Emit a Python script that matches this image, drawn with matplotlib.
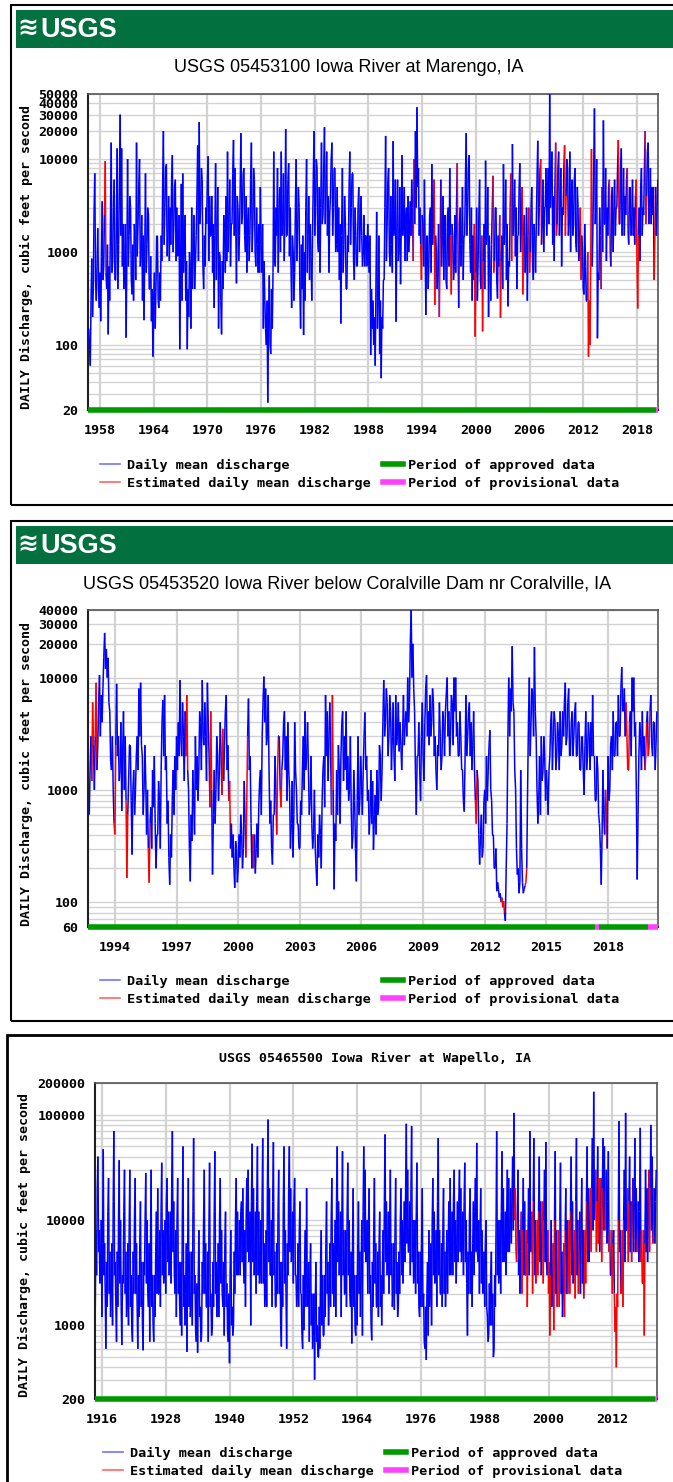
import numpy as np
import matplotlib.pyplot as plt
from matplotlib.collections import LineCollection
from matplotlib.lines import Line2D
from matplotlib.patches import Rectangle
from matplotlib.ticker import LogLocator, NullFormatter

# ---------------- data (cfs) ----------------
# Iowa River at Marengo: one row per water year, monthly highs/lows (Oct..Sep)
marengo_title = "USGS 05453100 Iowa River at Marengo, IA"
marengo_start, marengo_step = 1956.75, 1 / 12
marengo_cfs = [
    150, 90, 60, 300, 850, 200, 400, 2500, 7000, 500, 300, 700,
    1800, 400, 250, 600, 180, 900, 3500, 500, 700, 2500, 9500, 600,
    400, 1200, 130, 700, 300, 2000, 15000, 600, 800, 3000, 6000, 500,
    500, 2000, 13000, 400, 1200, 5000, 30000, 1500, 13000, 700, 2000, 400,
    600, 2000, 120, 800, 10000, 700, 1500, 4000, 3000, 500, 350, 1200,
    300, 2000, 1500, 500, 15000, 900, 2000, 5000, 10000, 700, 900, 2500,
    300, 1500, 185, 900, 7000, 600, 1200, 3000, 2500, 400, 400, 900,
    180, 400, 75, 300, 600, 150, 400, 1500, 1500, 300, 250, 600,
    300, 1500, 800, 5000, 20000, 1200, 3000, 8000, 8800, 900, 1500, 4000,
    800, 3000, 1200, 6000, 11000, 1000, 2000, 5000, 6000, 800, 3000, 900,
    900, 2500, 90, 500, 5400, 300, 7000, 600, 1000, 2500, 300, 800,
    90, 400, 200, 1000, 700, 150, 3000, 400, 1000, 2500, 400, 800,
    1500, 4000, 14000, 800, 25000, 2000, 3000, 8000, 6000, 700, 400, 1500,
    700, 3000, 2000, 6000, 10700, 800, 4000, 1500, 1500, 4000, 600, 2000,
    250, 1500, 9000, 500, 2000, 5000, 150, 1000, 900, 300, 130, 800,
    400, 2500, 1800, 600, 4000, 800, 12000, 1000, 2500, 6000, 700, 2000,
    2000, 7000, 16000, 1500, 8000, 2000, 460, 4000, 3000, 800, 1500, 5000,
    19000, 2000, 2500, 7000, 8000, 1500, 1000, 4000, 600, 2000, 3000, 800,
    1500, 6000, 15000, 1000, 2000, 8000, 6000, 1000, 700, 3000, 1200, 600,
    2000, 600, 5000, 1200, 600, 2000, 150, 800, 300, 150, 100, 300,
    24, 200, 560, 100, 80, 400, 150, 600, 12000, 800, 700, 3000,
    1500, 8000, 600, 3000, 5000, 1000, 12000, 1500, 2000, 7000, 800, 2500,
    21000, 1500, 1500, 6000, 9000, 900, 3000, 800, 250, 1500, 1000, 300,
    600, 3000, 10000, 800, 1500, 5000, 3000, 400, 150, 1200, 400, 1500,
    128, 1000, 300, 3000, 10000, 600, 1500, 4000, 500, 2000, 900, 300,
    1500, 6000, 20000, 1500, 3000, 10000, 8000, 1200, 1000, 5000, 600, 3000,
    15000, 2000, 2500, 8000, 22000, 2000, 5000, 12000, 1500, 4000, 600, 2500,
    4000, 10000, 15000, 1500, 3000, 8000, 8000, 1000, 1200, 5000, 1000, 3000,
    500, 2000, 170, 1500, 8000, 600, 1200, 4000, 2000, 400, 400, 1500,
    1000, 5000, 12000, 1200, 3000, 7000, 7000, 800, 500, 3000, 1500, 700,
    700, 3000, 5000, 1000, 2000, 4000, 1500, 700, 1000, 2500, 700, 1500,
    1500, 700, 2000, 1000, 600, 1500, 78, 400, 150, 300, 100, 200,
    60, 400, 2700, 150, 300, 1500, 80, 300, 44, 200, 150, 500,
    500, 3000, 17700, 800, 2000, 6000, 8000, 1000, 700, 4000, 1200, 600,
    15600, 1500, 2000, 6000, 178, 1500, 6000, 800, 1000, 5000, 450, 2000,
    11000, 1500, 2000, 5000, 800, 2500, 3000, 800, 4000, 1000, 1500, 3500,
    1500, 6000, 3000, 800, 10000, 2000, 20000, 3000, 36000, 5000, 8000, 1500,
    3000, 1200, 500, 2500, 2000, 700, 6000, 1000, 210, 1500, 1500, 400,
    800, 2500, 3000, 600, 8800, 1200, 2000, 6000, 270, 1500, 1000, 400,
    600, 2000, 200, 1200, 6000, 700, 1500, 4000, 500, 2500, 2500, 500,
    400, 2500, 3000, 700, 8000, 1500, 350, 2000, 1500, 500, 700, 2500,
    600, 3000, 9000, 800, 250, 2000, 3000, 700, 1200, 5000, 500, 1500,
    1500, 6000, 19000, 1500, 3000, 8000, 11000, 1200, 600, 3000, 300, 1500,
    500, 2000, 123, 600, 3000, 300, 800, 2500, 6000, 500, 400, 1500,
    140, 800, 2000, 400, 9600, 1200, 1500, 5000, 200, 1500, 600, 300,
    1200, 3000, 6600, 600, 800, 3000, 3000, 500, 316, 1500, 700, 2500,
    196, 800, 1500, 400, 8800, 1200, 2000, 6000, 500, 2000, 260, 800,
    700, 3000, 7000, 800, 14500, 1500, 2500, 6000, 900, 3000, 400, 1500,
    1500, 5000, 9000, 1000, 2000, 5000, 350, 1500, 2500, 600, 800, 3000,
    300, 1500, 3000, 600, 1000, 3000, 5000, 800, 500, 2000, 1500, 600,
    2000, 6000, 15700, 1500, 3000, 8000, 10000, 1200, 2000, 6000, 1000, 3000,
    3000, 8000, 1500, 4000, 8000, 2000, 49600, 3000, 5000, 12000, 1200, 4000,
    800, 5000, 15000, 1500, 2000, 8000, 12000, 1500, 3000, 8000, 700, 3000,
    2500, 8000, 14000, 1500, 4000, 10000, 8000, 1500, 2000, 12000, 1000, 4000,
    6000, 1500, 2000, 6000, 8000, 1200, 1000, 5000, 3000, 800, 1200, 3000,
    500, 1500, 1000, 400, 350, 2000, 700, 300, 300, 1000, 75, 300,
    100, 800, 12800, 700, 2000, 8000, 35000, 2000, 3000, 10000, 118, 600,
    500, 3000, 1500, 400, 5000, 1000, 26000, 2000, 2000, 8000, 800, 3000,
    1500, 5000, 6000, 1000, 700, 4000, 5000, 1000, 2500, 6000, 1500, 3000,
    3000, 8000, 16000, 2000, 2000, 8000, 13000, 1500, 3000, 8000, 1500, 4000,
    2500, 6000, 8000, 1500, 1200, 5000, 5000, 1500, 2000, 6000, 1500, 3000,
    1200, 4000, 6000, 800, 247, 1500, 3000, 800, 5000, 8000, 1500, 3000,
    2500, 8000, 20000, 2000, 4000, 12000, 15000, 2000, 3000, 8000, 2000, 5000,
    2500, 5000, 500, 1500, 5000, 1500, 3000, 6000,
]
marengo_est = [
    (1958.48, 1958.68), (1992.98, 1993.18), (1993.82, 1994.02), (1995.32, 1995.52),
    (1995.95, 1996.05), (1997.15, 1997.35), (1997.95, 1998.05), (1999.82, 2000.02),
    (2000.65, 2000.85), (2001.95, 2002.05), (2002.65, 2002.85), (2003.95, 2004.05),
    (2005.15, 2005.35), (2005.95, 2006.05), (2007.15, 2007.35), (2008.95, 2009.05),
    (2009.95, 2010.05), (2011.65, 2011.85), (2012.48, 2013.02), (2013.98, 2014.18),
    (2014.95, 2015.05), (2015.95, 2016.05), (2016.95, 2017.05), (2017.82, 2018.18),
    (2018.95, 2019.05), (2019.95, 2020.05),
]
marengo_approved = [(1956.66, 2020.1)]
marengo_provisional = [(2020.1, 2020.35)]
marengo_years = [1958, 1964, 1970, 1976, 1982, 1988, 1994, 2000, 2006, 2012, 2018]
marengo_yticks = [20, 100, 1000, 10000, 20000, 30000, 40000, 50000]

# Iowa River below Coralville Dam: one row per water year, twice a month (Oct..Sep)
coral_title = "USGS 05453520 Iowa River below Coralville Dam nr Coralville, IA"
coral_start, coral_step = 1992.75, 1 / 24
coral_cfs = [
    600, 1500, 3000, 1200, 6000, 2500, 1000, 3000, 9000, 1500, 2500, 6000,
    10500, 3000, 7000, 4000, 8000, 15000, 25000, 12000, 18000, 10000, 15000, 6000,
    5000, 1800, 1500, 3000, 1000, 500, 400, 2500, 8800, 2000, 3000, 1200,
    1500, 4000, 650, 2000, 5000, 1000, 3000, 800, 164, 600, 1200, 2500,
    2500, 800, 265, 1000, 1500, 600, 1000, 2000, 3000, 1500, 8000, 3000,
    9000, 2500, 2000, 600, 1000, 2500, 1200, 400, 1000, 300, 149, 500,
    700, 300, 1500, 700, 2000, 500, 200, 400, 400, 1200, 800, 300,
    1500, 4000, 6300, 2000, 7000, 1500, 2000, 500, 800, 250, 143, 400,
    250, 800, 1500, 600, 2000, 1000, 3000, 1500, 4000, 2000, 9500, 3000,
    2000, 6000, 3000, 1200, 5000, 2000, 7000, 1500, 1000, 300, 153, 600,
    350, 1500, 800, 400, 3000, 1000, 2000, 800, 1500, 5000, 4000, 1500,
    9500, 3000, 2500, 6000, 3000, 1200, 9000, 4000, 2000, 700, 5000, 1000,
    176, 600, 1500, 500, 1000, 3000, 2000, 800, 1500, 4000, 2000, 900,
    3500, 1200, 2500, 5000, 7000, 1500, 2500, 800, 1200, 300, 500, 250,
    400, 200, 134, 350, 300, 150, 200, 400, 250, 600, 400, 200,
    300, 1200, 500, 250, 800, 3000, 6500, 1500, 2000, 500, 200, 400,
    200, 400, 180, 300, 500, 250, 700, 1200, 1500, 600, 3000, 6000,
    10200, 4000, 8000, 2500, 3000, 7000, 1500, 500, 800, 300, 216, 600,
    600, 2000, 1000, 400, 1500, 3000, 3000, 1000, 700, 1500, 2000, 4000,
    5000, 1500, 3000, 800, 4000, 1500, 1000, 300, 500, 1200, 250, 600,
    4000, 1500, 1000, 500, 500, 300, 300, 800, 600, 1500, 3000, 1000,
    5000, 1500, 2000, 4000, 1500, 600, 800, 2000, 500, 300, 400, 1000,
    300, 200, 140, 400, 250, 600, 400, 200, 800, 1500, 2000, 700,
    7000, 2000, 5000, 1200, 3000, 6000, 2000, 600, 7000, 1000, 130, 500,
    350, 1500, 600, 2500, 1500, 500, 2000, 4000, 5000, 1200, 3000, 1500,
    5000, 1000, 2000, 800, 1000, 3000, 700, 300, 400, 1500, 800, 300,
    153, 800, 3000, 600, 800, 2000, 1200, 600, 1500, 3000, 4900, 1500,
    2000, 800, 1000, 400, 600, 1500, 500, 1200, 293, 600, 900, 400,
    1500, 600, 700, 2500, 2000, 800, 1500, 4000, 9500, 3000, 4000, 8000,
    6000, 2000, 3000, 7000, 5000, 1500, 3000, 6000, 2000, 1200, 7000, 2500,
    3000, 6000, 2200, 4000, 2500, 1500, 3000, 7000, 2500, 4000, 5000, 3000,
    10000, 4000, 6000, 20000, 41000, 10000, 20000, 8000, 5000, 1500, 600, 2000,
    2000, 4000, 1500, 800, 3000, 6000, 2000, 1200, 4000, 8000, 10500, 3000,
    5000, 2500, 7000, 3000, 4000, 8000, 6000, 2000, 3000, 1500, 1000, 2500,
    2000, 6000, 3000, 1500, 2000, 5000, 4000, 2000, 5000, 7000, 10000, 3000,
    5000, 2000, 3000, 7000, 6000, 2500, 10000, 5000, 10000, 3000, 4000, 2000,
    2000, 5000, 3000, 1500, 1500, 800, 640, 2000, 7000, 2000, 3000, 5000,
    6000, 2000, 4000, 1500, 2500, 5000, 1500, 800, 500, 1500, 1200, 400,
    216, 400, 600, 250, 300, 800, 1000, 500, 2000, 800, 1500, 2500,
    3400, 1000, 800, 400, 400, 200, 200, 300, 125, 150, 130, 110,
    120, 100, 110, 90, 102, 80, 68, 200, 500, 3000, 10000, 3000,
    8000, 5000, 19000, 6000, 5000, 1500, 1000, 300, 176, 200, 120, 150,
    1500, 300, 150, 120, 130, 140, 150, 200, 1000, 4000, 10000, 2000,
    4000, 8000, 7000, 3000, 18700, 5000, 3000, 1000, 500, 800, 2000, 600,
    3000, 1200, 1500, 3000, 2000, 800, 1500, 1000, 600, 1500, 2000, 4000,
    5000, 1500, 3000, 5000, 4000, 1500, 2000, 4000, 3000, 1500, 5000, 2000,
    2500, 5000, 3000, 6000, 9000, 2500, 3000, 6000, 8000, 2000, 2000, 4000,
    5000, 2000, 3000, 5000, 6000, 2000, 2000, 4000, 4000, 1500, 1500, 3000,
    3000, 1500, 900, 2500, 5000, 1500, 2000, 4000, 3000, 1500, 4000, 2000,
    7000, 2000, 2000, 800, 800, 2000, 1500, 600, 500, 300, 143, 400,
    1500, 600, 400, 1000, 700, 300, 2000, 800, 1000, 2500, 3000, 1500,
    5000, 2000, 2000, 4000, 4000, 2000, 7000, 3000, 3000, 8000, 12400, 5000,
    5000, 8000, 3000, 6000, 3000, 1500, 1500, 4000, 5000, 2000, 10000, 5000,
    10000, 3000, 4000, 1000, 159, 600, 2000, 4000, 3000, 1500, 5000, 2000,
    3000, 1500, 2000, 4000, 5000, 2000, 2500, 5000, 7000, 2500, 2000, 4000,
    4000, 1500, 2500, 5000,
]
coral_est = [
    (1992.87, 1992.97), (1993.03, 1993.13), (1993.95, 1994.05), (1994.53, 1994.63),
    (1995.62, 1995.72), (1997.45, 1997.55), (1998.62, 1998.72), (1999.2, 1999.3),
    (1999.53, 1999.63), (2000.37, 2000.47), (2000.7, 2000.8), (2001.87, 2001.97),
    (2002.03, 2002.13), (2004.53, 2004.63), (2011.53, 2011.63), (2012.78, 2012.97),
    (2013.95, 2014.05), (2017.87, 2017.97), (2018.87, 2019.05), (2019.78, 2019.88),
    (2019.95, 2020.05),
]
coral_approved = [(1992.69, 2017.35), (2017.56, 2019.94)]
coral_provisional = [(2017.35, 2017.56), (2019.94, 2020.43)]
coral_years = [1994, 1997, 2000, 2003, 2006, 2009, 2012, 2015, 2018]
coral_yticks = [60, 100, 1000, 10000, 20000, 30000, 40000]

# Iowa River at Wapello: one row per water year, every 1.5 months (Oct..Aug)
wap_title = "USGS 05465500 Iowa River at Wapello, IA"
wap_start, wap_step = 1914.75, 1 / 8
wap_cfs = [
    1500, 8000, 3000, 20000, 40000, 5000, 8000, 2500,
    3000, 10000, 1200, 6000, 47000, 3000, 6000, 2000,
    600, 4000, 1500, 12000, 25000, 2000, 5000, 1200,
    2000, 6000, 1000, 15000, 70000, 3000, 4000, 1500,
    700, 5000, 1500, 10000, 37000, 2500, 10000, 1500,
    650, 3000, 2500, 12000, 30000, 2000, 5000, 1200,
    1500, 6000, 1000, 8000, 30000, 1500, 3000, 900,
    700, 5000, 2000, 10000, 25000, 2000, 6000, 1500,
    600, 3000, 1200, 6000, 15000, 1500, 4000, 1000,
    580, 4000, 3000, 10000, 28000, 2500, 10000, 2000,
    1500, 6000, 700, 5000, 30000, 1500, 3000, 1000,
    700, 3000, 1200, 5000, 12000, 2000, 20000, 2000,
    2000, 8000, 1500, 12000, 35000, 3000, 8000, 2500,
    3000, 10000, 2000, 15000, 25000, 4000, 12000, 3000,
    4000, 12000, 2500, 20000, 70000, 5000, 15000, 3000,
    2000, 8000, 1200, 10000, 25000, 2000, 4000, 1500,
    1000, 4000, 800, 10000, 50000, 1500, 3000, 1000,
    2000, 6000, 560, 5000, 25000, 1500, 5000, 1200,
    1500, 5000, 1000, 12000, 60000, 2000, 3000, 900,
    700, 2500, 550, 3000, 8000, 1200, 1500, 700,
    800, 4000, 2000, 10000, 30000, 2000, 6000, 1500,
    1500, 5000, 700, 8000, 35000, 1500, 2000, 800,
    900, 4000, 1500, 12000, 45000, 2000, 4000, 1200,
    2000, 6000, 1200, 10000, 25000, 2500, 8000, 2000,
    1500, 4000, 800, 6000, 12000, 1500, 2500, 900,
    700, 2000, 437, 3000, 8000, 1000, 1500, 800,
    1000, 5000, 2000, 10000, 25000, 3000, 12000, 3000,
    4000, 10000, 3000, 12000, 15000, 4000, 20000, 4000,
    2500, 8000, 1500, 10000, 25000, 5000, 30000, 4000,
    5000, 12000, 1000, 15000, 53000, 4000, 20000, 3000,
    4000, 12000, 2000, 15000, 50000, 3000, 12000, 2500,
    3000, 10000, 2500, 15000, 60000, 2500, 6000, 1500,
    2000, 8000, 1500, 20000, 90000, 4000, 20000, 3000,
    3000, 10000, 1500, 15000, 55000, 3000, 5000, 1500,
    1500, 6000, 2000, 12000, 30000, 2000, 4000, 1000,
    630, 4000, 1500, 15000, 50000, 2500, 8000, 2000,
    600, 6000, 3000, 20000, 50000, 5000, 20000, 4000,
    5000, 12000, 2500, 15000, 25000, 3000, 3000, 1500,
    2000, 6000, 1500, 8000, 15000, 2000, 2000, 800,
    600, 3000, 900, 4000, 8000, 1500, 20000, 2000,
    1500, 4000, 700, 3000, 6000, 1000, 2000, 600,
    800, 2000, 305, 1500, 4000, 700, 1000, 500,
    500, 1500, 600, 4000, 8000, 1000, 3000, 800,
    800, 3000, 1200, 6000, 15000, 2000, 4000, 1000,
    2000, 6000, 1500, 10000, 25000, 2000, 6000, 1500,
    3000, 10000, 1200, 15000, 50000, 4000, 15000, 3000,
    5000, 12000, 1200, 10000, 45000, 3000, 8000, 2000,
    2000, 8000, 1500, 12000, 35000, 3000, 10000, 2000,
    1500, 5000, 673, 5000, 20000, 1500, 3000, 900,
    800, 3000, 1000, 6000, 15000, 2000, 5000, 1200,
    3000, 10000, 800, 12000, 50000, 5000, 30000, 4000,
    4000, 10000, 2000, 8000, 20000, 2000, 3000, 1000,
    722, 4000, 1500, 8000, 25000, 2500, 6000, 1500,
    1500, 5000, 1200, 6000, 12000, 1500, 3000, 1000,
    3000, 8000, 2000, 15000, 65000, 4000, 15000, 3000,
    5000, 12000, 2000, 10000, 30000, 3000, 6000, 1500,
    2000, 6000, 1400, 8000, 25000, 2000, 4000, 1200,
    1500, 5000, 2000, 10000, 20000, 3000, 10000, 2500,
    6000, 15000, 4000, 20000, 82000, 6000, 30000, 5000,
    5000, 15000, 3000, 20000, 78000, 4000, 10000, 2500,
    3000, 10000, 2000, 12000, 35000, 2500, 5000, 1500,
    1200, 5000, 1500, 6000, 20000, 1500, 2000, 700,
    600, 1500, 470, 2000, 4000, 800, 8000, 1500,
    2000, 6000, 1000, 10000, 25000, 3000, 12000, 2500,
    3000, 8000, 1500, 15000, 60000, 3000, 8000, 2000,
    2000, 6000, 1500, 8000, 20000, 2000, 5000, 1500,
    3000, 8000, 2000, 6000, 15000, 3000, 25000, 3000,
    5000, 12000, 3000, 15000, 30000, 4000, 10000, 2500,
    6000, 15000, 4000, 15000, 30000, 5000, 20000, 4000,
    5000, 12000, 3000, 15000, 35000, 4000, 10000, 2500,
    800, 5000, 2000, 10000, 20000, 2000, 5000, 1500,
    6000, 15000, 3000, 12000, 25000, 5000, 54000, 5000,
    4000, 10000, 2000, 8000, 20000, 2500, 8000, 2000,
    2000, 5000, 1500, 6000, 10000, 1500, 1200, 700,
    800, 2500, 1000, 3000, 5000, 1000, 2000, 500,
    585, 3000, 1500, 8000, 70000, 3000, 10000, 2500,
    3000, 10000, 2000, 12000, 45000, 4000, 20000, 4000,
    5000, 12000, 3000, 10000, 30000, 5000, 25000, 5000,
    8000, 20000, 6000, 15000, 40000, 8000, 104000, 10000,
    20000, 5000, 4000, 10000, 30000, 3000, 8000, 2000,
    5000, 12000, 2000, 8000, 25000, 3000, 15000, 3000,
    3000, 8000, 1500, 6000, 20000, 3000, 70000, 5000,
    5000, 12000, 2000, 15000, 60000, 3000, 10000, 2500,
    4000, 10000, 3000, 12000, 40000, 4000, 15000, 3000,
    6000, 15000, 2500, 10000, 30000, 4000, 55000, 4000,
    3000, 8000, 2000, 4000, 800, 3000, 10000, 1500,
    2000, 6000, 900, 10000, 45000, 2000, 8000, 1500,
    3000, 8000, 1500, 10000, 35000, 2000, 5000, 1200,
    2000, 6000, 1200, 8000, 20000, 2000, 10000, 2000,
    4000, 10000, 2000, 12000, 40000, 3000, 15000, 2500,
    3000, 8000, 1800, 15000, 60000, 3000, 10000, 2000,
    5000, 12000, 2000, 8000, 25000, 2500, 8000, 1800,
    3000, 8000, 2500, 15000, 50000, 4000, 20000, 4000,
    8000, 20000, 5000, 20000, 60000, 8000, 165000, 10000,
    15000, 30000, 5000, 15000, 50000, 6000, 25000, 5000,
    10000, 25000, 4000, 20000, 60000, 8000, 50000, 8000,
    20000, 30000, 6000, 15000, 45000, 5000, 8000, 3000,
    3000, 8000, 2000, 6000, 8000, 2000, 870, 1500,
    400, 2000, 1500, 10000, 87000, 5000, 8000, 2000,
    3000, 8000, 1500, 10000, 30000, 4000, 104000, 8000,
    8000, 20000, 4000, 15000, 40000, 5000, 15000, 4000,
    10000, 25000, 5000, 15000, 60000, 5000, 20000, 5000,
    8000, 15000, 4000, 12000, 75000, 4000, 8000, 2500,
    2500, 8000, 800, 6000, 30000, 5000, 20000, 4000,
    10000, 30000, 5000, 20000, 80000, 8000, 40000, 6000,
    8000, 20000, 6000, 15000, 30000,
]
wap_est = [
    (1993.6, 1994.15), (1994.85, 1995.15), (1995.6, 1996.15), (1996.85, 1997.15),
    (1997.6, 1998.15), (1998.85, 1999.15), (1999.85, 2000.4), (2000.85, 2001.15),
    (2001.6, 2002.15), (2002.85, 2003.15), (2003.6, 2004.15), (2004.85, 2005.15),
    (2005.6, 2005.9), (2006.6, 2007.15), (2007.85, 2008.15), (2008.85, 2009.15),
    (2009.35, 2009.65), (2009.85, 2010.15), (2010.6, 2010.9), (2011.35, 2011.65),
    (2011.85, 2012.15), (2012.35, 2013.15), (2013.6, 2014.15), (2014.85, 2015.15),
    (2015.6, 2015.9), (2016.6, 2016.9), (2017.35, 2018.15), (2018.85, 2019.15),
    (2019.6, 2019.9),
]
wap_approved = [(1914.7, 2020.1)]
wap_provisional = [(2020.1, 2020.4)]
wap_years = [1916, 1928, 1940, 1952, 1964, 1976, 1988, 2000, 2012]
wap_yticks = [200, 1000, 10000, 100000, 200000]

legend_labels = ["Daily mean discharge", "Estimated daily mean discharge",
                 "Period of approved data", "Period of provisional data"]
ylabel = "DAILY Discharge, cubic feet per second"

# ---------------- styling ----------------
W, H = 673, 1482
fig = plt.figure(figsize=(W / 100, H / 100), dpi=100)
fig.patch.set_facecolor("white")

MONO = "DejaVu Sans Mono"
SANS = ["Liberation Sans Narrow", "Liberation Sans", "DejaVu Sans"]
BLUE, RED = "#0000ff", "#ff0000"
GREEN, PINK = "#009a00", "#ff40ff"
USGS_GREEN = "#02703f"
GRID = "#d2d2d2"


def fx(x):
    return x / W


def fy(y):
    return 1 - y / H


def box(left, top, right, bottom, **kw):
    fig.patches.append(Rectangle((fx(left), fy(bottom)), (right - left) / W,
                                 (bottom - top) / H, transform=fig.transFigure, **kw))


def header(top):
    # green USGS banner with the wordmark
    box(16, top, 690, top + 38, facecolor=USGS_GREEN, edgecolor="none")
    fig.text(fx(17), fy(top + 19), "\u224b", color="white", fontsize=18,
             fontweight="bold", family="DejaVu Sans", ha="left", va="center")
    fig.text(fx(40), fy(top + 20), "USGS", color="white", fontsize=19.5,
             fontweight="bold", family=SANS, ha="left", va="center")


def legend(y_top, x0=100):
    handles = [(BLUE, 1.2, 0.55), (RED, 1.2, 0.6), (GREEN, 4, 1), (PINK, 4, 1)]
    for i, (label, (c, lw, a)) in enumerate(zip(legend_labels, handles)):
        col, row = divmod(i, 2)
        hx = x0 + col * 283
        yy = y_top + row * 18
        fig.add_artist(Line2D([fx(hx), fx(hx + 20)], [fy(yy), fy(yy)], color=c,
                              lw=lw, alpha=a, transform=fig.transFigure))
        fig.text(fx(hx + 27 - col * 2), fy(yy), label, family=MONO, fontweight="bold",
                 fontsize=9.7, ha="left", va="center_baseline")


def hydrograph(rect, start, step, cfs, est, approved, provisional,
               xlim, ylim, years, yticks, lw=1.1):
    l, t, r, b = rect
    ax = fig.add_axes([fx(l), fy(b), (r - l) / W, (b - t) / H])
    ax.set_yscale("log")
    q = np.asarray(cfs, dtype=float)
    tt = start + step * np.arange(len(q))
    pts = np.column_stack([tt, q])
    segs = np.stack([pts[:-1], pts[1:]], axis=1)
    mid = (tt[:-1] + tt[1:]) / 2
    is_est = np.zeros(len(mid), dtype=bool)
    for a, e in est:
        is_est |= (mid >= a) & (mid <= e)
    colors = [RED if f else BLUE for f in is_est]
    ax.add_collection(LineCollection(segs, colors=colors, linewidths=lw, zorder=3))

    ax.set_xlim(*xlim)
    ax.set_ylim(*ylim)
    ax.set_xticks(years)
    ax.set_xticklabels([str(y) for y in years])
    ax.set_yticks(yticks)
    ax.set_yticklabels([str(v) for v in yticks])
    ax.yaxis.set_minor_locator(LogLocator(base=10, subs=np.arange(1, 10), numticks=50))
    ax.yaxis.set_minor_formatter(NullFormatter())
    ax.grid(True, which="both", axis="y", color=GRID, lw=1.0, zorder=0)
    ax.grid(True, which="major", axis="x", color=GRID, lw=1.6, zorder=0)
    ax.set_axisbelow(True)
    ax.tick_params(which="both", length=0)
    ax.tick_params(axis="y", pad=7)
    ax.tick_params(axis="x", pad=10)
    for lab in ax.get_xticklabels() + ax.get_yticklabels():
        lab.set_family(MONO)
        lab.set_fontweight("bold")
        lab.set_fontsize(9.6)
    for side, sp in ax.spines.items():
        sp.set_color("#202020" if side in ("left", "bottom") else "#555555")
        sp.set_linewidth(1.5 if side in ("left", "bottom") else 1.2)

    # status bar along the bottom edge
    for a, e in approved:
        ax.plot([a, e], [ylim[0], ylim[0]], color=GREEN, lw=4, solid_capstyle="butt",
                clip_on=False, zorder=5)
    for a, e in provisional:
        ax.plot([a, e], [ylim[0], ylim[0]], color=PINK, lw=4, solid_capstyle="butt",
                clip_on=False, zorder=5)
    return ax


# ---------------- panel 1: Marengo ----------------
box(11, 5, 690, 505, facecolor="none", edgecolor="black", lw=1.5)
header(10)
fig.text(fx(349), fy(68), marengo_title, family=SANS, fontsize=13,
         ha="center", va="center")
hydrograph((88, 94, 658, 410), marengo_start, marengo_step, marengo_cfs, marengo_est,
           marengo_approved, marengo_provisional, (1956.66, 2020.35), (20, 50000),
           marengo_years, marengo_yticks)
fig.text(fx(26), fy(257), ylabel, rotation=90, family=MONO, fontweight="bold",
         fontsize=9.5, ha="center", va="center")
legend(464)

# ---------------- panel 2: Coralville ----------------
box(11, 521, 690, 1021, facecolor="none", edgecolor="black", lw=1.5)
header(526)
fig.text(fx(347), fy(584), coral_title, family=SANS, fontsize=13,
         ha="center", va="center")
hydrograph((88, 610, 658, 927), coral_start, coral_step, coral_cfs, coral_est,
           coral_approved, coral_provisional, (1992.69, 2020.43), (60, 40000),
           coral_years, coral_yticks, lw=1.1)
fig.text(fx(26), fy(774), ylabel, rotation=90, family=MONO, fontweight="bold",
         fontsize=9.5, ha="center", va="center")
legend(980)

# ---------------- panel 3: Wapello ----------------
box(7, 1035, 690, 1500, facecolor="none", edgecolor="black", lw=2)
fig.text(fx(375), fy(1058), wap_title, family=MONO, fontweight="bold", fontsize=9.5,
         ha="center", va="center")
hydrograph((95, 1083, 657, 1399), wap_start, wap_step, wap_cfs, wap_est,
           wap_approved, wap_provisional, (1914.7, 2020.4), (200, 200000),
           wap_years, wap_yticks)
fig.text(fx(24), fy(1245), ylabel, rotation=90, family=MONO, fontweight="bold",
         fontsize=9.5, ha="center", va="center")
legend(1452, x0=103)

fig.savefig("out.png", dpi=100)
